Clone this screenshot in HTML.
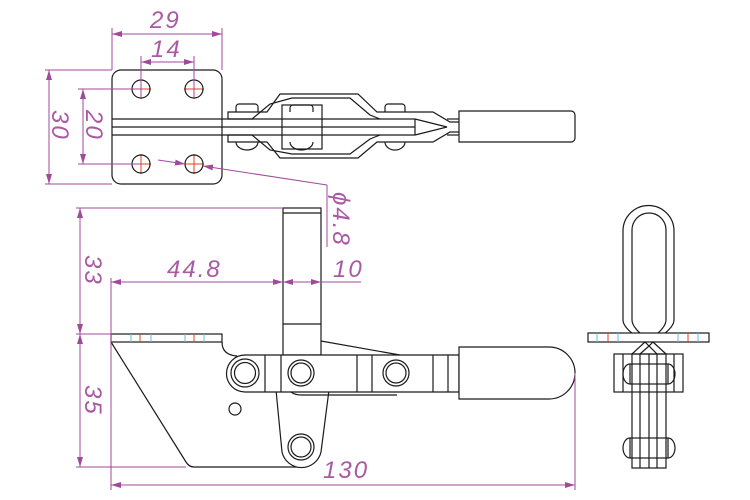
<!DOCTYPE html>
<html><head><meta charset="utf-8"><style>
html,body{margin:0;padding:0;background:#fff}
svg{display:block}
.d{stroke:#a04a9a;stroke-width:1;fill:none}
.t{fill:#a85aa2;font-family:"Liberation Sans",sans-serif;font-size:24px;font-style:italic;letter-spacing:2px}
.k{stroke:#1a1a1a;stroke-width:1.2;fill:none}
.w{stroke:#1a1a1a;stroke-width:1.2;fill:#fff}
</style></head><body>
<svg width="750" height="500" viewBox="0 0 750 500" xmlns="http://www.w3.org/2000/svg">
<defs>
<marker id="a" viewBox="0 0 10 6" refX="10" refY="3" markerWidth="10" markerHeight="6" orient="auto-start-reverse" markerUnits="userSpaceOnUse"><path d="M0,0 L10,3 L0,6 z" fill="#a04a9a"/></marker>
</defs>

<!-- ===== TOP VIEW ===== -->
<rect x="112" y="70" width="110" height="114" rx="9" class="k"/>
<g stroke="#e0401a" stroke-width="1">
<line x1="131" y1="89" x2="151" y2="89"/><line x1="141" y1="79" x2="141" y2="99"/>
<line x1="184" y1="89" x2="204" y2="89"/><line x1="194" y1="79" x2="194" y2="99"/>
<line x1="131" y1="164" x2="151" y2="164"/><line x1="141" y1="154" x2="141" y2="174"/>
<line x1="184" y1="164" x2="204" y2="164"/><line x1="194" y1="154" x2="194" y2="174"/>
</g>
<circle cx="141" cy="89" r="9" class="k"/><circle cx="194" cy="89" r="9" class="k"/>
<circle cx="141" cy="164" r="9" class="k"/><circle cx="194" cy="164" r="9" class="k"/>
<line x1="112" y1="119" x2="415" y2="119" class="k"/>
<line x1="112" y1="127" x2="415" y2="127" class="k"/>
<line x1="112" y1="135" x2="415" y2="135" class="k"/>
<line x1="415" y1="119" x2="415" y2="135" class="k"/>
<polyline points="415,119 447,127 415,135" class="k"/>
<polyline points="228,119 228,112 267,112 280,94 358,94 377,112 433,112 450,122 459,122" class="k"/>
<polyline points="228,135 228,142 267,142 280,158 358,158 377,142 433,142 450,132 459,132" class="k"/>
<polyline points="228,119 252,119 270,104 292,98 350,98 370,115 380,119" class="k"/>
<polyline points="228,135 252,135 270,150 292,154 350,154 370,139 380,135" class="k"/>
<rect x="282" y="105" width="40" height="44" class="k"/>
<path d="M236,112 v-5 a3,3 0 0 1 3,-3 h16 a3,3 0 0 1 3,3 v5" class="k"/>
<path d="M290,112 v-4 a3,3 0 0 1 3,-3 h17 a3,3 0 0 1 3,3 v4" class="k"/>
<path d="M385,112 v-5 a3,3 0 0 1 3,-3 h14 a3,3 0 0 1 3,3 v5" class="k"/>
<path d="M236,142 a11,8 0 0 0 22,0" class="k"/>
<path d="M290,142 a11.5,8 0 0 0 23,0" class="k"/>
<path d="M385,142 a10,8 0 0 0 20,0" class="k"/>
<line x1="447" y1="119" x2="459" y2="119" class="k"/><line x1="447" y1="135" x2="459" y2="135" class="k"/>
<path d="M459,111 H571 a4,4 0 0 1 4,4 V138 a4,4 0 0 1 -4,4 H459 Z" class="k"/>

<!-- top view dims -->
<line x1="112" y1="28" x2="112" y2="70" class="d"/><line x1="222" y1="28" x2="222" y2="70" class="d"/>
<line x1="112" y1="34" x2="222" y2="34" class="d" marker-start="url(#a)" marker-end="url(#a)"/>
<text x="150" y="28" class="t">29</text>
<line x1="141" y1="56" x2="141" y2="98" class="d"/><line x1="194" y1="56" x2="194" y2="98" class="d"/>
<line x1="141" y1="62" x2="194" y2="62" class="d" marker-start="url(#a)" marker-end="url(#a)"/>
<text x="151" y="57" class="t">14</text>
<line x1="45" y1="70" x2="112" y2="70" class="d"/><line x1="45" y1="184" x2="112" y2="184" class="d"/>
<line x1="49" y1="70" x2="49" y2="184" class="d" marker-start="url(#a)" marker-end="url(#a)"/>
<text transform="translate(52,110) rotate(90)" class="t">30</text>
<line x1="78" y1="89" x2="141" y2="89" class="d"/><line x1="78" y1="164" x2="141" y2="164" class="d"/>
<line x1="83" y1="89" x2="83" y2="164" class="d" marker-start="url(#a)" marker-end="url(#a)"/>
<text transform="translate(86,110) rotate(90)" class="t">20</text>
<line x1="158" y1="160" x2="185" y2="164" class="d" marker-end="url(#a)"/>
<line x1="327" y1="185" x2="203" y2="166" class="d" marker-end="url(#a)"/>
<line x1="327" y1="185" x2="327" y2="247" class="d"/>
<text transform="translate(333,192) rotate(90)" class="t">ϕ4.8</text>

<!-- ===== SIDE VIEW ===== -->
<rect x="283" y="208" width="38" height="147" class="k"/>
<line x1="283" y1="213" x2="321" y2="213" class="k"/>
<line x1="283" y1="324" x2="321" y2="324" class="k"/>
<polyline points="321,341 400,355" class="k"/>
<rect x="111" y="334" width="111" height="8" class="k"/>
<g stroke-width="1">
<line x1="131" y1="334" x2="131" y2="342" stroke="#5bc0d0"/><line x1="151" y1="334" x2="151" y2="342" stroke="#5bc0d0"/>
<line x1="140" y1="334" x2="140" y2="342" stroke="#e0401a"/>
<line x1="185" y1="334" x2="185" y2="342" stroke="#5bc0d0"/><line x1="204" y1="334" x2="204" y2="342" stroke="#5bc0d0"/>
<line x1="194" y1="334" x2="194" y2="342" stroke="#e0401a"/>
</g>
<path d="M111,342 L186,462 Q189,467 194,467 L301,467" class="k"/>
<path d="M222,342 Q222,355 237,356" class="k"/>
<circle cx="235" cy="409" r="6" class="k"/>
<path d="M276,390 L282,452 A20,20 0 0 0 321,452 L329,390" class="w"/>
<circle cx="301" cy="447" r="13" class="k"/><circle cx="301" cy="447" r="10" class="k"/>
<path d="M245,355 H459 V392 H245 A18.5,18.5 0 0 1 245,355 Z" class="w"/>
<line x1="265" y1="355" x2="265" y2="392" class="k"/>
<line x1="281" y1="355" x2="281" y2="392" class="k"/>
<line x1="357" y1="355" x2="357" y2="392" class="k"/>
<line x1="372" y1="355" x2="372" y2="392" class="k"/>
<line x1="433" y1="355" x2="433" y2="392" class="k"/>
<line x1="448" y1="355" x2="448" y2="392" class="k"/>
<path d="M291,392 Q295,395 301,395 H397" class="k"/>
<circle cx="245" cy="373" r="14" class="k"/><circle cx="245" cy="373" r="10.5" class="k"/>
<circle cx="301" cy="373" r="13" class="k"/><circle cx="301" cy="373" r="10" class="k"/>
<circle cx="396" cy="373" r="13" class="k"/><circle cx="396" cy="373" r="10" class="k"/>
<path d="M459,347 H549 A26,26 0 0 1 549,399 H459 Z" class="w"/>

<line x1="76" y1="208" x2="283" y2="208" class="d"/>
<line x1="76" y1="334" x2="111" y2="334" class="d"/>
<line x1="76" y1="467" x2="186" y2="467" class="d"/>
<line x1="80" y1="208" x2="80" y2="334" class="d" marker-start="url(#a)" marker-end="url(#a)"/>
<line x1="80" y1="334" x2="80" y2="467" class="d" marker-start="url(#a)" marker-end="url(#a)"/>
<text transform="translate(85,255) rotate(90)" class="t">33</text>
<text transform="translate(85,385) rotate(90)" class="t">35</text>
<line x1="111" y1="278" x2="111" y2="490" class="d"/>
<line x1="111" y1="282" x2="283" y2="282" class="d" marker-start="url(#a)" marker-end="url(#a)"/>
<text x="167" y="277" class="t">44.8</text>
<line x1="283" y1="282" x2="321" y2="282" class="d" marker-start="url(#a)" marker-end="url(#a)"/>
<line x1="321" y1="282" x2="361" y2="282" class="d"/>
<text x="333" y="277" class="t">10</text>
<line x1="575" y1="373" x2="575" y2="490" class="d"/>
<line x1="111" y1="485" x2="575" y2="485" class="d" marker-start="url(#a)" marker-end="url(#a)"/>
<text x="323" y="478" class="t">130</text>

<!-- ===== END VIEW ===== -->
<path d="M623,320 V231 A25.5,25.5 0 0 1 674,231 V320 Q674,326 664,334 L652,342" class="k"/>
<path d="M623,320 Q623,326 633,334 L645,342" class="k"/>
<path d="M632,320 V230 A17,17 0 0 1 666,230 V320 Q666,326 657,334 L649,342" class="k"/>
<path d="M632,320 Q632,326 641,334 L649,342" class="k"/>
<rect x="588" y="333" width="121" height="9" class="w"/>
<g stroke-width="1">
<line x1="597" y1="333" x2="597" y2="342" stroke="#5bc0d0"/><line x1="608" y1="333" x2="608" y2="342" stroke="#e0401a"/><line x1="618" y1="333" x2="618" y2="342" stroke="#5bc0d0"/>
<line x1="678" y1="333" x2="678" y2="342" stroke="#5bc0d0"/><line x1="688" y1="333" x2="688" y2="342" stroke="#e0401a"/><line x1="698" y1="333" x2="698" y2="342" stroke="#5bc0d0"/>
</g>
<path d="M632,354 L645,342 L649,346 L653,342 L666,354" class="k"/>
<path d="M640,354 L649,346 L657,354" class="k"/>
<rect x="614" y="354" width="69" height="38" class="k"/>
<line x1="623" y1="354" x2="623" y2="392" class="k"/>
<line x1="674" y1="354" x2="674" y2="392" class="k"/>
<rect x="632" y="354" width="34" height="114" class="k"/>
<line x1="640" y1="354" x2="640" y2="468" class="k"/>
<line x1="649" y1="354" x2="649" y2="468" class="k"/>
<line x1="657" y1="354" x2="657" y2="468" class="k"/>
<rect x="630" y="364" width="38" height="20" class="k"/>
<path d="M630,364 a7,10 0 0 0 0,20" class="k"/><path d="M668,364 a7,10 0 0 1 0,20" class="k"/>
<rect x="630" y="438" width="38" height="20" class="k"/>
<path d="M630,438 a7,10 0 0 0 0,20" class="k"/><path d="M668,438 a7,10 0 0 1 0,20" class="k"/>
</svg>
</body></html>
